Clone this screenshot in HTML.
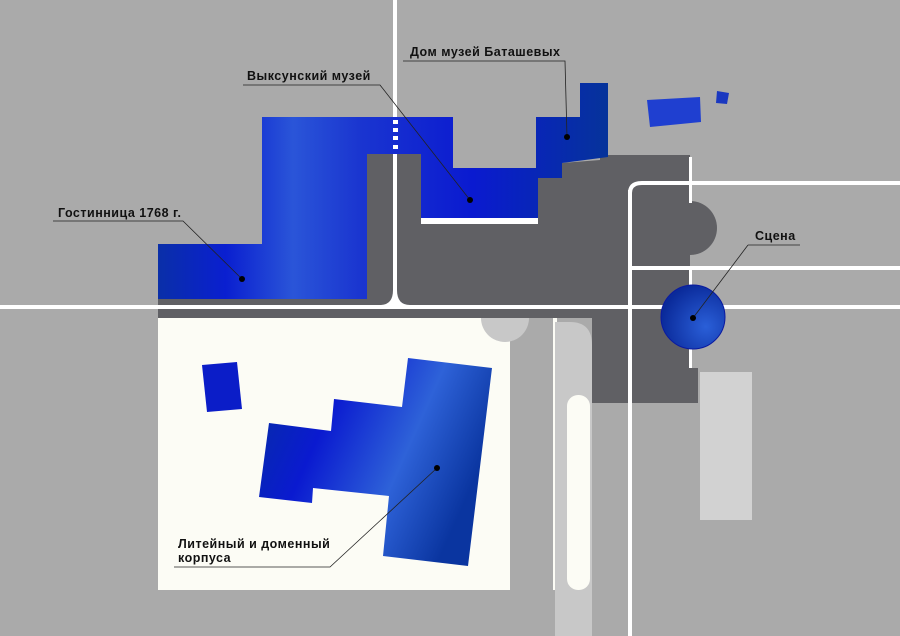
<!DOCTYPE html>
<html><head><meta charset="utf-8"><style>
html,body{margin:0;padding:0;background:#aaaaaa;}
svg{display:block}
text{font-family:"Liberation Sans",sans-serif;font-weight:bold;font-size:12.5px;letter-spacing:0.5px;fill:#111;}
</style></head><body>
<svg width="900" height="636" viewBox="0 0 900 636" xmlns="http://www.w3.org/2000/svg">
<defs>
<linearGradient id="g1" x1="0" y1="0" x2="1" y2="0">
<stop offset="0" stop-color="#0a2fa8"/><stop offset="0.15" stop-color="#0a1fd0"/><stop offset="0.3" stop-color="#2a55d8"/><stop offset="0.45" stop-color="#1a35d0"/><stop offset="0.7" stop-color="#0a1ad0"/><stop offset="1" stop-color="#05339a"/></linearGradient>
<linearGradient id="g2" x1="0" y1="0" x2="1" y2="0.4">
<stop offset="0" stop-color="#0530a0"/><stop offset="0.35" stop-color="#0a1ad0"/><stop offset="0.7" stop-color="#2e62d8"/><stop offset="1" stop-color="#0a35a0"/></linearGradient>
<radialGradient id="g3" cx="0.7" cy="0.65" r="0.7"><stop offset="0" stop-color="#2a5fd8"/><stop offset="1" stop-color="#0a2a9a"/></radialGradient>
</defs>
<rect width="900" height="636" fill="#aaaaaa"/>
<g fill="#606064">
<polygon points="367,154 421,154 421,224 538,224 538,178 560,178 562,163 600,160 600,155 690,155 690,368 698,368 698,403 592,403 592,318 158,318 158,299 367,299"/>
<path d="M690,201 A27,27 0 0 1 690,255 Z"/>
</g>
<rect x="158" y="318" width="352" height="272" fill="#fcfcf5"/>
<rect x="510" y="357" width="43" height="233" fill="#aaaaaa"/>
<rect x="553" y="318" width="4" height="272" fill="#fcfcf5"/>
<path d="M555,322 L570,322 Q592,322 592,345 L592,636 L555,636 Z" fill="#c8c8c8"/>
<rect x="567" y="395" width="23" height="195" rx="11" fill="#fcfcf5"/>
<path d="M481,318 A24,24 0 0 0 529,318 Z" fill="#c8c8c8"/>
<rect x="700" y="372" width="52" height="148" fill="#d2d2d2"/>
<g fill="#ffffff">
<rect x="393" y="0" width="4" height="300"/>
<rect x="0" y="305" width="900" height="4"/>
<rect x="628" y="190" width="4" height="446"/>
<path d="M628,193 Q628,181 642,181 L900,181 L900,185 L642,185 Q632,185 632,193 Z"/>
<rect x="632" y="266" width="268" height="4"/>
<rect x="689" y="157" width="3" height="46"/>
<rect x="689" y="270" width="3" height="98"/>
<path d="M393,290 Q393,305 380,305 L410,305 Q397,305 397,290 Z"/>
<rect x="421" y="218" width="117" height="6"/>
</g>
<polygon fill="url(#g1)" points="262,117 453,117 453,168 536,168 536,117 580,117 580,83 608,83 608,157 562,163 562,178 538,178 538,218 421,218 421,154 367,154 367,299 158,299 158,244 262,244"/>
<rect x="393" y="120" width="5" height="4" fill="#fff"/><rect x="393" y="128" width="5" height="4" fill="#fff"/><rect x="393" y="136" width="5" height="4" fill="#fff"/><rect x="393" y="145" width="5" height="4" fill="#fff"/>
<polygon fill="#1f3fd0" points="647,100 700,97 701,122 650,127"/>
<polygon fill="#1a38c0" points="717,91 729,93 727,104 716,103"/>
<circle cx="693" cy="317" r="32" fill="url(#g3)" stroke="#0a1aa0" stroke-width="1"/>
<polygon fill="#0b1dc8" points="202,365 237,362 242,409 207,412"/>
<polygon fill="url(#g2)" points="408,358 492,368 468,566 383,556 389,496 313,488 312,503 259,497 269,423 331,431 334,399 402,407"/>
<g stroke="#222" stroke-width="0.8" fill="none">
<polyline points="53,221 183,221 242,279"/>
<polyline points="243,85 380,85 470,200"/>
<polyline points="403,61 565,61 567,137"/>
<polyline points="748,245 800,245"/>
<polyline points="748,245 693,318"/>
<polyline points="174,567 330,567 437,468"/>
</g>
<g fill="#000">
<circle cx="242" cy="279" r="3"/><circle cx="470" cy="200" r="3"/><circle cx="567" cy="137" r="3"/><circle cx="693" cy="318" r="3"/><circle cx="437" cy="468" r="3"/>
</g>
<text x="58" y="217">Гостинница 1768 г.</text>
<text x="247" y="80">Выксунский музей</text>
<text x="410" y="56">Дом музей Баташевых</text>
<text x="755" y="240">Сцена</text>
<text x="178" y="548">Литейный и доменный</text>
<text x="178" y="562">корпуса</text>
</svg>
</body></html>
